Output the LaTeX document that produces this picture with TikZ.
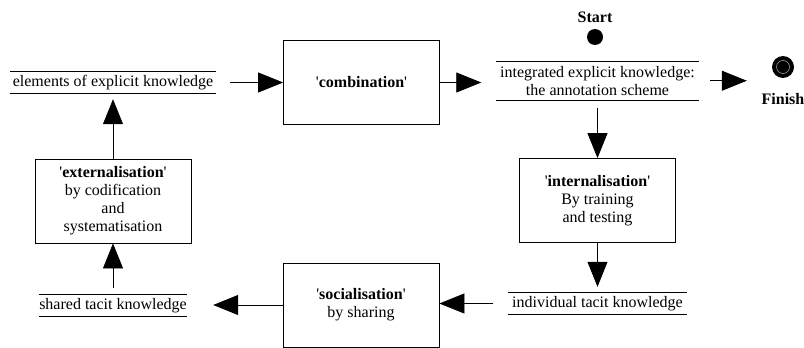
\documentclass[tikz,border=0pt]{standalone}
\usepackage{fontspec}
\setmainfont{Liberation Serif}
\usetikzlibrary{arrows.meta}
\newcommand\sq{\textquotesingle}
\begin{document}
\begin{tikzpicture}[x=1pt,y=-1pt, font=\fontsize{16}{18}\selectfont,
  proc/.style={draw, line width=0.8pt, minimum width=156pt, minimum height=84pt, align=center, inner sep=0pt},
  store/.style={inner xsep=0pt, inner ysep=0pt, align=center},
  flow/.style={line width=0.8pt, -{Triangle[length=25pt,width=20pt]}},
  sline/.style={line width=0.8pt},
  lbl/.style={font=\bfseries\fontsize{16}{18}\selectfont, anchor=base, inner sep=0pt}]
\useasboundingbox (0,0) rectangle (804,348);
% process boxes
\node[proc] (comb) at (361.5,82.5) {\sq\textbf{combination}\sq};
\node[proc] (ext) at (113,201) {\sq\textbf{externalisation}\sq\\by codification\\and\\systematisation};
\node[proc] (int) at (597.5,200.5) {\sq\textbf{internalisation}\sq\\By training\\and testing};
\node[proc] (soc) at (361,305) {\sq\textbf{socialisation}\sq\\by sharing};
% stores
\node[store, minimum width=206pt, minimum height=21pt] (elem) at (113,82.5) {elements of explicit knowledge};
\node[store, minimum width=202pt, minimum height=39pt] (integ) at (597.5,80.75) {integrated explicit knowledge:\\the annotation scheme};
\node[store, minimum width=178pt, minimum height=21pt] (indiv) at (597.5,303.5) {individual tacit knowledge};
\node[store, minimum width=148pt, minimum height=21pt] (shared) at (113,305.5) {shared tacit knowledge};
\foreach \n in {elem,integ,indiv,shared}
  \draw[sline] (\n.north west) -- (\n.north east) (\n.south west) -- (\n.south east);
% start / finish
\node[lbl] (starttxt) at (595,22) {Start};
\node[circle, fill=black, minimum size=16pt, inner sep=0pt] (start) at (595,37) {};
\node[circle, fill=black, minimum size=22pt, inner sep=0pt] (fin) at (783,67) {};
\draw[gray!60, line width=0.5pt] (fin.center) circle (6.5pt);
\node[lbl] (fintxt) at (783,104) {Finish};
% flows
\draw[flow, shorten <=14pt] (elem.east) -- (comb.west);
\draw[flow, shorten >=15pt] (comb.east) -- (comb.east -| integ.west);
\draw[flow, shorten <=11pt, shorten >=25pt] (integ.east) -- (integ.east -| fin.west);
\draw[flow, shorten <=8pt] (integ.south) -- (int.north);
\draw[flow, shorten >=6pt] (int.south) -- (indiv.north);
\draw[flow, shorten <=15pt] (indiv.west) -- (indiv.west -| soc.east);
\draw[flow, shorten >=26pt] (soc.west) -- (soc.west -| shared.east);
\draw[flow, shorten <=7pt] (shared.north) -- (ext.south);
\draw[flow, shorten >=6pt] (ext.north) -- (elem.south);
\end{tikzpicture}
\end{document}
